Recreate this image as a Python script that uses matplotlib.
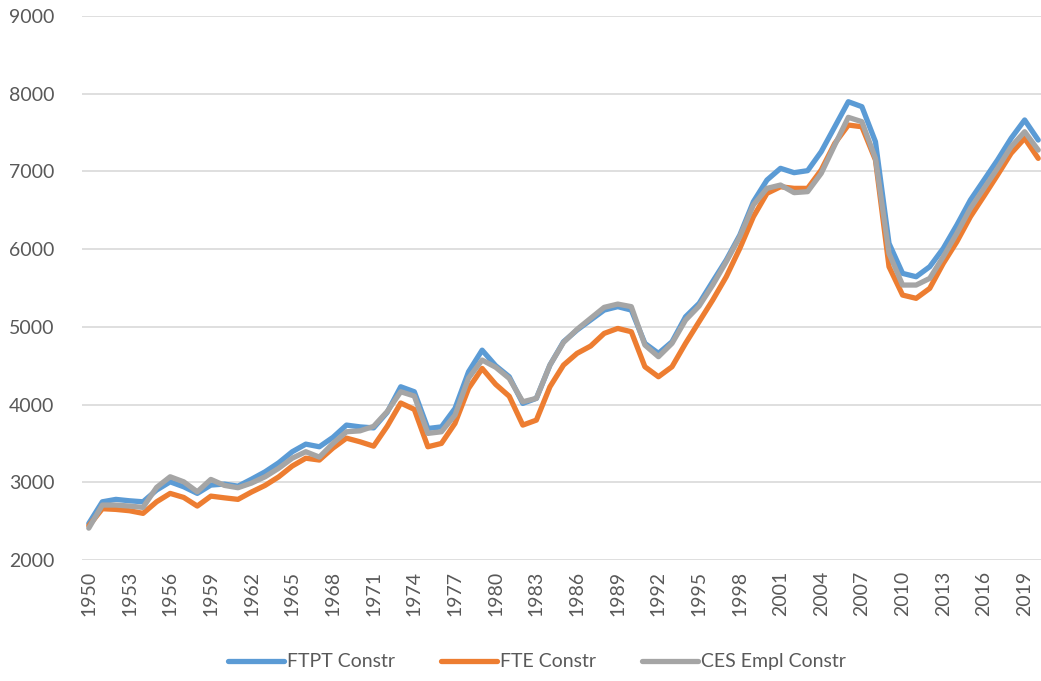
import numpy as np
import matplotlib
matplotlib.use("Agg")
import matplotlib.pyplot as plt

plt.rcParams['font.family'] = ['Lato', 'DejaVu Sans']

years = list(range(1950, 2021))

ftpt_constr = [2470, 2749, 2780, 2762, 2749, 2900, 3006, 2942, 2857, 2964,
               2977, 2950, 3040, 3135, 3251, 3393, 3491, 3457, 3578, 3736,
               3713, 3700, 3900, 4229, 4165, 3692, 3713, 3950, 4422, 4700,
               4500, 4358, 4015, 4080, 4508, 4808, 4959, 5088, 5216, 5260,
               5216, 4788, 4659, 4808, 5130, 5302, 5583, 5860, 6181, 6610,
               6889, 7040, 6984, 7010, 7254, 7575, 7897, 7833, 7382, 6074,
               5688, 5645, 5774, 6010, 6310, 6632, 6889, 7147, 7426, 7662,
               7404]

fte_constr = [2440, 2660, 2651, 2634, 2600, 2749, 2857, 2805, 2694, 2822,
              2800, 2780, 2875, 2960, 3070, 3209, 3310, 3286, 3440, 3568,
              3521, 3465, 3720, 4020, 3938, 3457, 3500, 3758, 4208, 4465,
              4260, 4107, 3736, 3800, 4229, 4508, 4659, 4753, 4916, 4980,
              4937, 4487, 4358, 4487, 4788, 5067, 5345, 5645, 6010, 6417,
              6718, 6803, 6782, 6782, 7018, 7361, 7597, 7575, 7147, 5774,
              5409, 5367, 5495, 5817, 6095, 6417, 6683, 6954, 7233, 7426,
              7168]

ces_empl_constr = [2410, 2707, 2707, 2694, 2677, 2934, 3071, 3006, 2878, 3037,
                   2960, 2930, 2990, 3071, 3180, 3310, 3393, 3324, 3500, 3650,
                   3662, 3720, 3910, 4165, 4110, 3629, 3650, 3865, 4340, 4573,
                   4480, 4337, 4036, 4080, 4508, 4800, 4968, 5110, 5251, 5293,
                   5260, 4766, 4616, 4788, 5088, 5268, 5538, 5838, 6160, 6568,
                   6782, 6825, 6727, 6740, 6975, 7340, 7696, 7640, 7168, 5946,
                   5538, 5538, 5624, 5903, 6203, 6525, 6782, 7040, 7318, 7511,
                   7275]

tick_years = years[::3]

fig = plt.figure(figsize=(10.41, 6.81), dpi=100)
ax = fig.add_axes([82 / 1041, 121 / 681, 963 / 1041, 544 / 681])

txt = '#595959'
ax.plot(years, ftpt_constr, color='#5B9BD5', lw=3.8, label='FTPT Constr',
        solid_joinstyle='round', solid_capstyle='round')
ax.plot(years, fte_constr, color='#ED7D31', lw=3.8, label='FTE Constr',
        solid_joinstyle='round', solid_capstyle='round')
ax.plot(years, ces_empl_constr, color='#A5A5A5', lw=3.8, label='CES Empl Constr',
        solid_joinstyle='round', solid_capstyle='round')

ax.set_xlim(1949.5, 2020.5)
ax.set_ylim(2000, 9000)
ax.set_yticks(np.arange(2000, 9001, 1000))
ax.set_xticks(tick_years)
ax.set_xticklabels([str(y) for y in tick_years], rotation=90)

ax.grid(axis='y', color='#D9D9D9', lw=1.2)
ax.set_axisbelow(True)
for s in ax.spines.values():
    s.set_visible(False)
ax.tick_params(axis='y', length=0, pad=20, labelsize=14, labelcolor=txt)
ax.tick_params(axis='x', length=0, pad=8, labelsize=14, labelcolor=txt)
for lab in ax.get_yticklabels():
    lab.set_horizontalalignment('right')

fig.legend(loc='lower center', bbox_to_anchor=(0.516, -0.01), ncol=3,
           frameon=False, fontsize=14, labelcolor=txt, handlelength=2.9,
           columnspacing=2.35, handletextpad=0.15)

fig.savefig('out.png', dpi=100)
